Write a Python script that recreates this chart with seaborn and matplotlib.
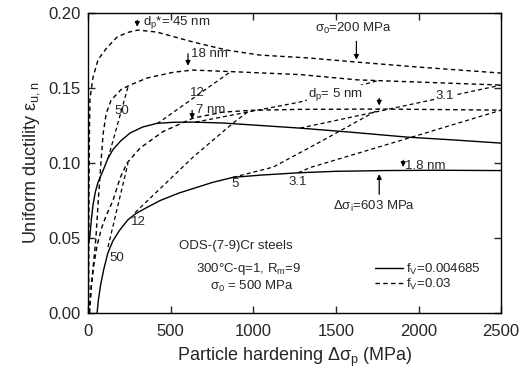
import numpy as np
import pandas as pd
import matplotlib
matplotlib.use("Agg")
import matplotlib.pyplot as plt
import seaborn as sns

# main curves (x = particle hardening in MPa, y = uniform ductility)
s_low_x = [55, 62, 75, 95, 120, 150, 190, 240, 285, 350, 436, 550, 636, 750, 878, 1050, 1271, 1500, 1800, 2100, 2500]
s_low_y = [0.0, 0.008, 0.018, 0.029, 0.040, 0.048, 0.055, 0.062, 0.066, 0.070, 0.075, 0.080, 0.083, 0.087, 0.0905, 0.092, 0.0935, 0.0945, 0.0950, 0.0952, 0.0950]

s_up_x = [0, 5, 12, 20, 30, 45, 60, 91, 120, 151, 200, 254, 330, 418, 520, 636, 817, 1050, 1283, 1600, 1931, 2200, 2500]
s_up_y = [0.045, 0.047, 0.052, 0.062, 0.072, 0.081, 0.087, 0.095, 0.103, 0.109, 0.115, 0.120, 0.124, 0.1265, 0.1272, 0.1273, 0.1267, 0.1250, 0.1233, 0.1205, 0.1173, 0.1155, 0.1133]

d_top_x = [4, 6, 9, 12, 30, 61, 115, 176, 236, 303, 418, 636, 841, 1041, 1344, 1628, 2000, 2500]
d_top_y = [0.0, 0.080, 0.125, 0.143, 0.157, 0.169, 0.177, 0.184, 0.187, 0.1887, 0.1873, 0.1807, 0.1753, 0.1720, 0.1700, 0.1673, 0.1640, 0.1600]

d_mid_x = [6, 20, 34, 48, 62, 78, 92, 110, 140, 200, 254, 357, 515, 630, 860, 1283, 1628, 2000, 2500]
d_mid_y = [0.0, 0.018, 0.034, 0.050, 0.075, 0.100, 0.120, 0.133, 0.142, 0.149, 0.152, 0.1567, 0.1605, 0.1620, 0.1610, 0.1590, 0.1555, 0.1540, 0.1520]

d_low_x = [10, 20, 35, 55, 80, 110, 151, 194, 236, 315, 454, 636, 817, 1000, 1283, 1764, 2100, 2500]
d_low_y = [0.0, 0.018, 0.032, 0.045, 0.056, 0.065, 0.075, 0.090, 0.100, 0.110, 0.121, 0.130, 0.1340, 0.1352, 0.1358, 0.1360, 0.1357, 0.1353]

# lines of constant particle size (lower ones end on the lower dashed curve, upper ones on the 18 nm curve)
iso_lines = {
    "50 low": ([121, 242], [0.044, 0.100]),
    "50 up": ([121, 245], [0.103, 0.152]),
    "12 low": ([285, 636, 878, 981], [0.0670, 0.1040, 0.1267, 0.1353]),
    "12 up": ([418, 860], [0.1262, 0.1607]),
    "5 low": ([878, 1120, 1386, 1764], [0.0905, 0.0973, 0.1130, 0.1360]),
    "5 up": ([650, 1283, 1764], [0.1273, 0.1407, 0.1553]),
    "3.1 low": ([1271, 1344, 1950, 2500], [0.0935, 0.0970, 0.1170, 0.1353]),
    "3.1 up": ([1283, 2500], [0.1233, 0.1520]),
}

sns.set_theme(style="ticks")
plt.rcParams["font.family"] = ["Liberation Sans", "DejaVu Sans"]
plt.rcParams["mathtext.fontset"] = "custom"
plt.rcParams["mathtext.rm"] = "Liberation Sans"

fig = plt.figure(figsize=(5.27, 3.74), dpi=100)
ax = fig.add_axes([0.167, 0.163, 0.784, 0.802])

lw = 1.0
dash = (0, (3.2, 2.4))
for xs, ys in [(s_low_x, s_low_y), (s_up_x, s_up_y)]:
    sns.lineplot(x=xs, y=ys, ax=ax, color="black", lw=lw, sort=False)
for xs, ys in [(d_top_x, d_top_y), (d_mid_x, d_mid_y), (d_low_x, d_low_y)]:
    sns.lineplot(x=xs, y=ys, ax=ax, color="black", lw=lw, ls=dash, sort=False)
for key, (xs, ys) in iso_lines.items():
    sns.lineplot(x=xs, y=ys, ax=ax, color="black", lw=0.9, ls=dash, sort=False)

ax.set_xlim(0, 2500)
ax.set_ylim(0, 0.20)
ax.set_xticks([0, 500, 1000, 1500, 2000, 2500])
ax.set_yticks([0, 0.05, 0.10, 0.15, 0.20])
ax.set_yticklabels(["0.00", "0.05", "0.10", "0.15", "0.20"])
ax.tick_params(direction="in", length=5, width=1, labelsize=12, top=True, right=True)
ax.tick_params(axis="x", pad=8)
ax.tick_params(axis="y", pad=5)
for sp in ax.spines.values():
    sp.set_linewidth(1.0)
    sp.set_color("black")
ax.set_xlabel("Particle hardening Δσ$\\mathregular{_p}$ (MPa)", fontsize=13, labelpad=5)
ax.set_ylabel("Uniform ductility ε$\\mathregular{_{u,n}}$", fontsize=13, labelpad=5)

fs = 9.5
arrow = dict(arrowstyle="-|>", color="black", lw=0.9, mutation_scale=7)
white = dict(facecolor="white", edgecolor="none", pad=0.5)

def arr(x, y0, y1):
    ax.annotate("", xy=(x, y1), xytext=(x, y0), arrowprops=arrow)

ax.text(333, 0.194, "d$\\mathregular{_p}$*= 45 nm", fontsize=fs, va="center")
arr(298, 0.197, 0.189)
ax.text(625, 0.1727, "18 nm", fontsize=fs, va="center")
arr(605, 0.1747, 0.163)
ax.text(654, 0.1353, "7 nm", fontsize=fs, va="center")
arr(630, 0.137, 0.1275)
ax.text(1374, 0.190, "σ$\\mathregular{_0}$=200 MPa", fontsize=fs, va="center")
arr(1624, 0.183, 0.167)
ax.text(1332, 0.146, "d$\\mathregular{_p}$= 5 nm", fontsize=fs, va="center", bbox=white, zorder=5)
arr(1762, 0.145, 0.1365)
ax.text(1919, 0.0983, "1.8 nm", fontsize=fs, va="center")
arr(1907, 0.1037, 0.0955)
ax.text(1483, 0.071, "Δσ$\\mathregular{_i}$=603 MPa", fontsize=fs, va="center")
arr(1762, 0.0773, 0.0945)

ax.text(2161, 0.145, "3.1", fontsize=fs, ha="center", va="center", bbox=white, zorder=5)
for lx, ly, s in [(206, 0.135, "50"), (660, 0.1467, "12"),
                  (176, 0.0367, "50"), (303, 0.0607, "12"), (890, 0.086, "5"), (1271, 0.0873, "3.1")]:
    ax.text(lx, ly, s, fontsize=fs, ha="center", va="center")

ax.text(897, 0.0447, "ODS-(7-9)Cr steels", fontsize=fs, ha="center", va="center")
ax.text(975, 0.0293, "300°C-q=1, R$\\mathregular{_m}$=9", fontsize=fs, ha="center", va="center")
ax.text(993, 0.018, "σ$\\mathregular{_0}$ = 500 MPa", fontsize=fs, ha="center", va="center")

h1, = ax.plot([], [], color="black", lw=lw)
h2, = ax.plot([], [], color="black", lw=lw, ls=dash)
ax.legend([h1, h2], ["f$\\mathregular{_V}$=0.004685", "f$\\mathregular{_V}$=0.03"],
          loc="center left", bbox_to_anchor=(0.695, 0.12), frameon=False, fontsize=fs,
          handlelength=2.1, handletextpad=0.25, labelspacing=0.0, borderpad=0.0, borderaxespad=0.0)

fig.savefig("out.png", dpi=100)
